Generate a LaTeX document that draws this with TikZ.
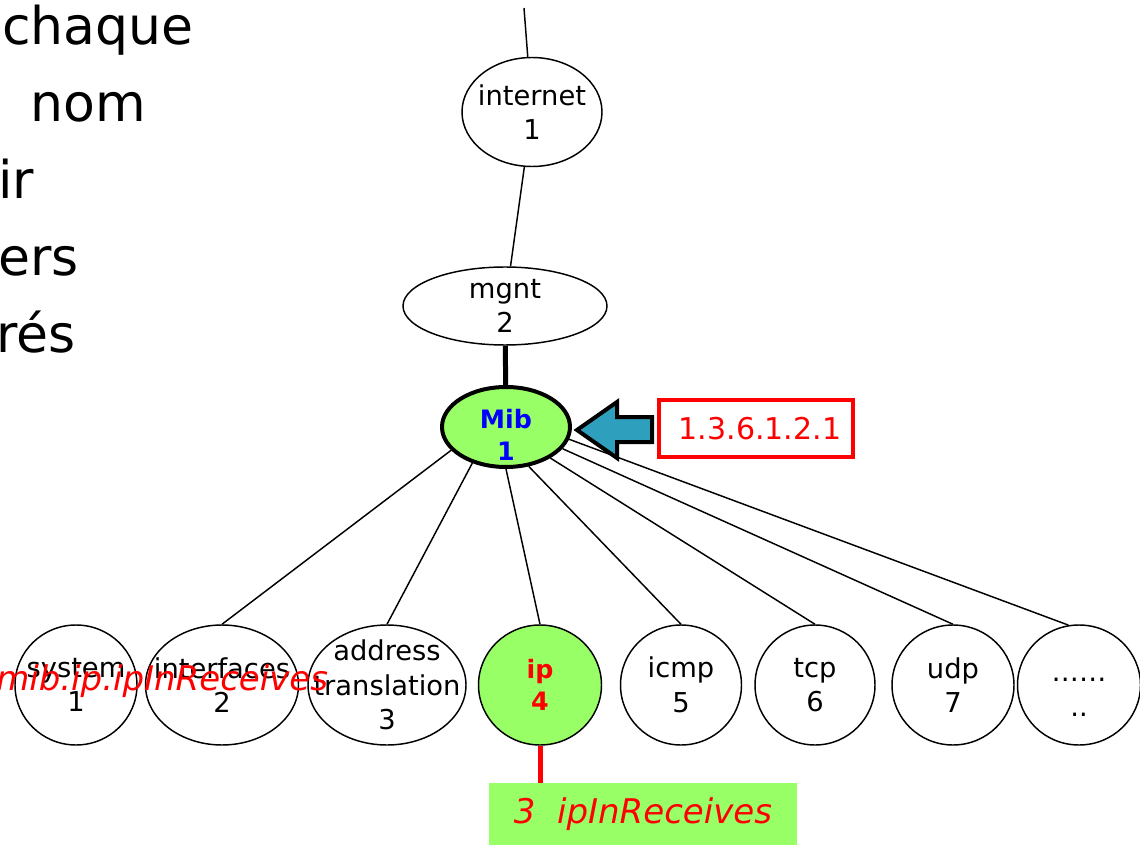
\documentclass[tikz,border=0pt]{standalone}
\usepackage{fontspec}
\setmainfont{DejaVu Sans}
\usetikzlibrary{shapes.geometric}
\definecolor{leafgreen}{RGB}{153,255,102}
\definecolor{arrowteal}{RGB}{46,160,190}
\tikzset{
  oidnode/.style={ellipse, draw, line width=1.1pt, inner sep=0pt},
  oidtext/.style={align=center, inner sep=0pt, font=\fontsize{20.5}{26}\selectfont},
  hitext/.style={align=center, inner sep=0pt, font=\fontsize{19}{24}\selectfont\bfseries},
  leafnode/.style={oidnode, minimum height=90pt},
  branch/.style={line width=1.1pt},
  bigtext/.style={anchor=base west, inner sep=0pt, font=\fontsize{39}{47}\selectfont},
}
\begin{document}
\begin{tikzpicture}[x=0.75pt,y=0.75pt,yscale=-1,xscale=1]
\useasboundingbox (0,0) rectangle (1140,845);

% Text Node (paragraph cut by the left edge)
\node[bigtext] (lineA) at (2,45) {chaque};
\node[bigtext] (lineB) at (30,122) {nom};
\node[bigtext] (lineC) at (-2,199) {ir};
\node[bigtext] (lineD) at (-2,276) {ers};
\node[bigtext] (lineE) at (-4,353) {rés};

% upper part of the tree
\coordinate (top) at (524,8);
\node[oidnode, minimum width=105pt, minimum height=81.75pt, label={[oidtext]center:internet\\1}] (internet) at (532,112) {};
\node[oidnode, minimum width=153pt, minimum height=58.5pt, label={[oidtext]center:mgnt\\2}] (mgnt) at (505,306) {};
\node[oidnode, fill=leafgreen, line width=3pt, minimum width=96pt, minimum height=60pt, label={[hitext, text=blue, yshift=-6pt]center:Mib\\1}] (mib) at (506,427) {};

%Straight Lines
\draw[branch] (top) -- (internet);
\draw[branch] (internet) -- (mgnt);
\draw[line width=3.75pt] (mgnt) -- (mib);

% OID box and arrow
\node[draw=red, line width=3pt, text=red, minimum width=145.5pt, minimum height=42.75pt, inner sep=0pt, font=\fontsize{22.5}{27}\selectfont] (oid) at (756,428.5) {\hspace{6pt}1.3.6.1.2.1};
\draw[line width=3pt, fill=arrowteal, line join=miter] (577,430) -- (617,402) -- (617,417) -- (652,417) -- (652,442) -- (617,442) -- (617,458) -- cycle;

% children of mib
\node[leafnode, minimum width=91.5pt, label={[oidtext]center:system\\1}] (system) at (76,685) {};
\node[leafnode, minimum width=114.75pt, label={[oidtext]center:interfaces\\2}] (interfaces) at (222,685) {};
\node[leafnode, minimum width=118.5pt, label={[oidtext]center:address\\translation\\3}] (address) at (387,685) {};
\node[leafnode, fill=leafgreen, minimum width=92.25pt, label={[hitext, text=red]center:ip\\4}] (ip) at (540,685) {};
\node[leafnode, minimum width=90.75pt, label={[oidtext]center:icmp\\5}] (icmp) at (681,685) {};
\node[leafnode, minimum width=90pt, label={[oidtext]center:tcp\\6}] (tcp) at (815,685) {};
\node[leafnode, minimum width=91.5pt, label={[oidtext]center:udp\\7}] (udp) at (953,685) {};
\node[leafnode, minimum width=92.25pt, label={[oidtext, yshift=-9pt]center:……\\..}] (more) at (1079,685) {};

%Straight Lines
\draw[branch] (mib.203) -- (interfaces.north);
\draw[branch] (mib.227) -- (address.north);
\draw[branch] (mib.270) -- (ip.north);
\draw[branch] (mib.300) -- (icmp.north);
\draw[branch] (mib.325) -- (tcp.north);
\draw[branch] (mib.339) -- (udp.north);
\draw[branch] (mib.349) -- (more.100);

% object below ip
\node[fill=leafgreen, text=red, minimum width=231pt, minimum height=46.5pt, inner sep=0pt, font=\fontsize{25.5}{30}\selectfont\itshape] (recv) at (643,814) {3\ \ ipInReceives};
\draw[red, line width=3.75pt] (ip.south) -- (ip.south |- recv.north);

% Text Node
\node[anchor=base west, inner sep=0pt, text=red, font=\fontsize{25.5}{30}\selectfont\itshape] (path) at (-4,690) {mib.ip.ipInReceives};
\end{tikzpicture}
\end{document}
